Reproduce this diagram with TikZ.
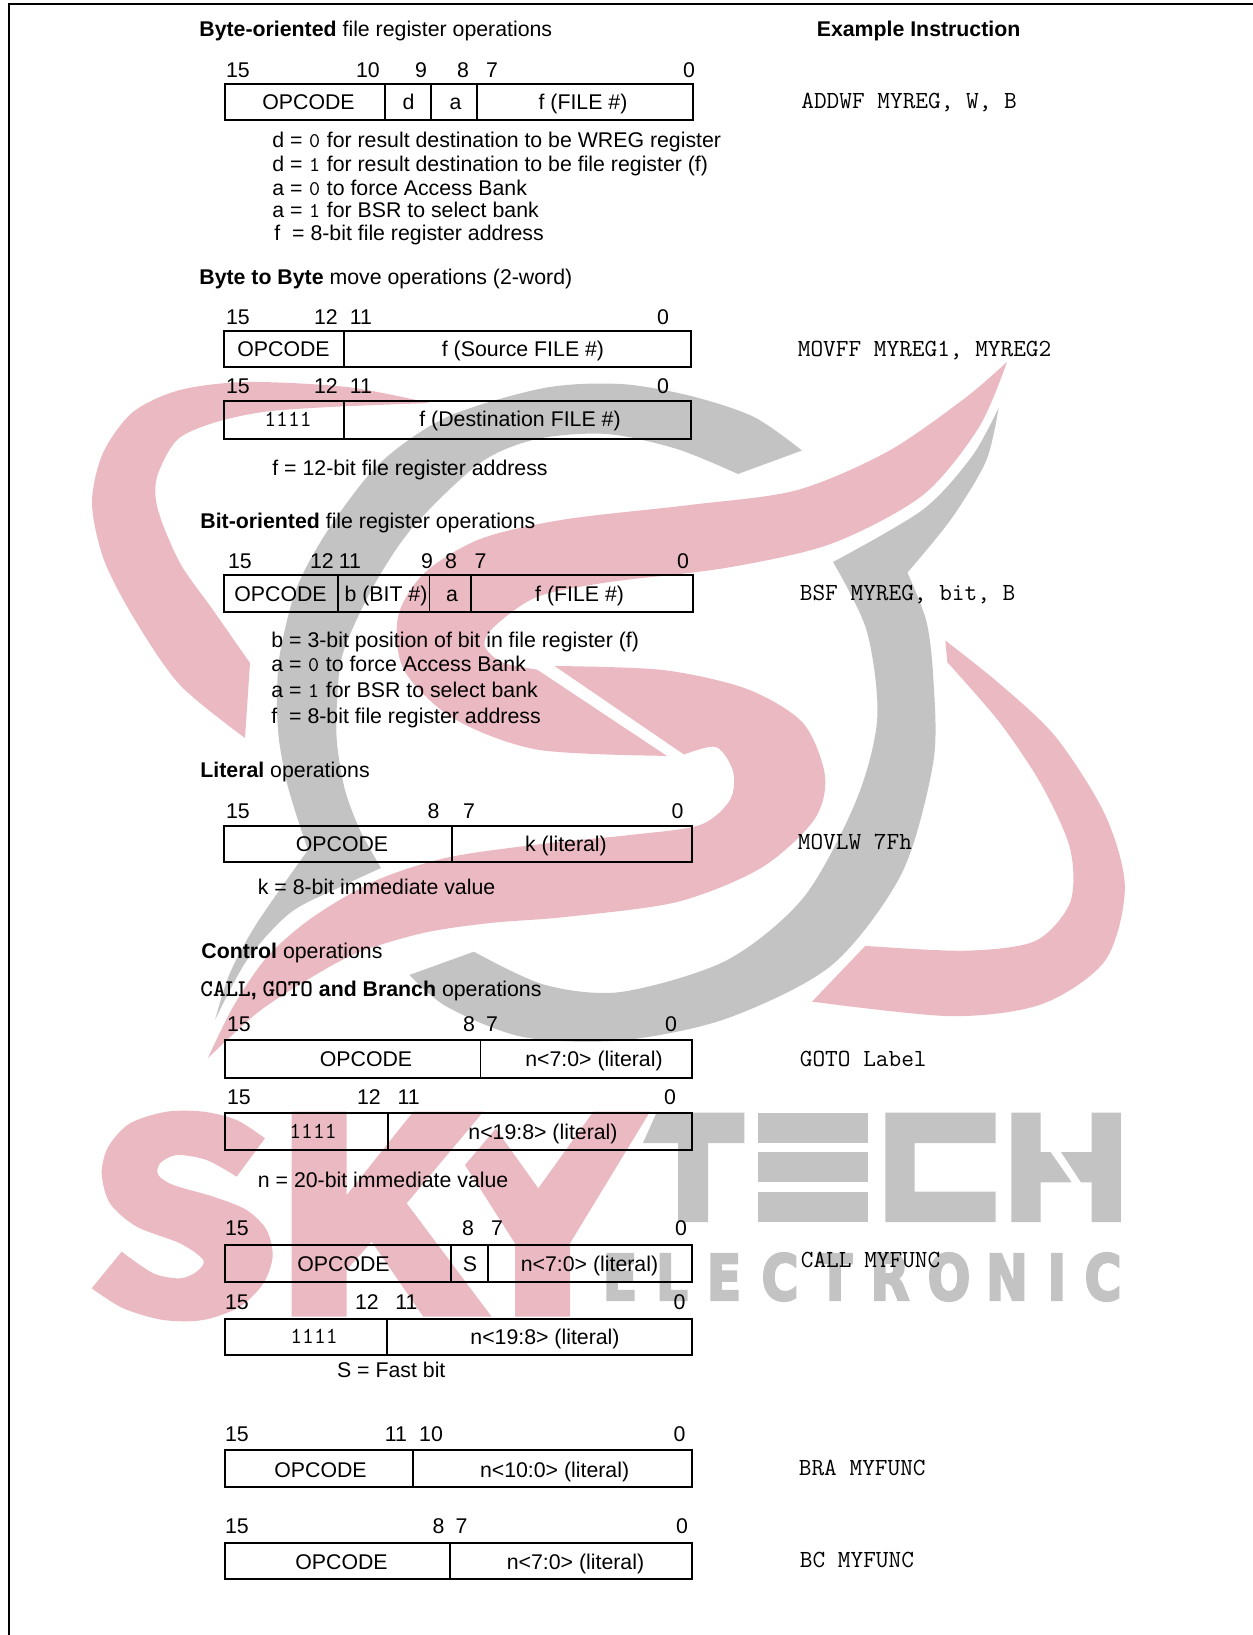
\documentclass[tikz,border=0pt]{standalone}
\usepackage{fontspec}
\setmainfont{Liberation Sans}
\newfontfamily\wmfont[FakeBold=4]{DejaVu Sans}
\usepackage{tikz}

\definecolor{wmpink}{HTML}{EBB9C1}
\definecolor{wmgray}{HTML}{C2C3C2}

\tikzset{
    frameline/.style={line width=1.25pt},
    regbox/.style={line width=1pt},
    regdiv/.style={line width=.8pt},
    wmred/.style={fill=wmpink},
    wmgrey/.style={fill=wmgray},
    wmletter/.style={text=wmgray, font=\fontsize{31.5}{33}\wmfont\bfseries, transform shape, xscale=.8, inner sep=0},
    headtext/.style={anchor=west, inner sep=0, text height=7.6pt, text depth=0pt, font=\fontsize{10.65}{12}\selectfont},
    notetext/.style={headtext},
    regtext/.style={inner sep=0, text height=7.6pt, text depth=0pt, font=\fontsize{10.65}{12}\selectfont},
    bitnum/.style={regtext},
    monotext/.style={anchor=west, inner sep=0, text height=6.5pt, text depth=0pt, font=\fontsize{12.3}{14}\selectfont\ttfamily},
    monoreg/.style={monotext, anchor=center, font=\fontsize{11.5}{14}\selectfont\ttfamily}
}
\newcommand{\nbit}[1]{\hspace{.35pt}{\fontsize{10.5}{12}\selectfont\ttfamily #1}\hspace{.35pt}}
\newcommand{\nop}[1]{{\fontsize{12}{12}\selectfont\ttfamily\bfseries #1}}

\begin{document}
\begin{tikzpicture}[x=0.5pt, y=-0.5pt]

\useasboundingbox (0,0) rectangle (1253,1635);

\fill[wmgrey] plot[smooth] coordinates {(802,450.5) (754,417) (691,396) (621,384) (544,388) (447,417) (380,463) (330,527) (297,587) (280,653) (277,700) (279,740) (287,783) (297,817) (308,850)}
    -- plot[smooth] coordinates {(308,850) (257,923) (230,973) (215,1020)}
    -- plot[smooth] coordinates {(215,1020) (247,960) (290,913) (340,887) (381,868)}
    -- plot[smooth] coordinates {(381,868) (360,830) (345,790) (337,743) (337,703) (343,653) (373,587) (413,527) (480,463) (537,439) (607,434) (677,449) (738,474)} -- cycle;
\begin{scope}[shift={(60,340)}, xscale=0.7015, yscale=0.4847]
\fill[wmgrey] plot[smooth] coordinates {(1338,140) (1300,240) (1230,350) (1102,458)}
    -- plot[smooth] coordinates {(1102,458) (1150,600) (1165,780) (1135,950) (1060,1150) (950,1280) (800,1345) (690,1330) (590,1262)}
    -- plot[smooth] coordinates {(498,1310) (552,1376) (660,1438) (800,1445) (950,1400) (1100,1290) (1200,1100) (1245,870) (1245,700) (1235,580) (1208,480)}
    -- plot[smooth] coordinates {(1208,480) (1270,370) (1320,250) (1338,140)} -- cycle;
\fill[wmred] plot[smooth] coordinates {(1350,45) (1290,120) (1180,230) (1050,310) (900,340) (720,370) (600,410) (520,480) (482,570) (490,680) (560,780) (680,845) (865,858)}
    -- plot[smooth] coordinates {(680,680) (630,665) (605,630) (620,590) (680,530) (780,500) (950,470) (1100,420) (1230,320) (1310,180) (1350,45)} -- cycle;
\fill[wmred] plot[smooth] coordinates {(1262,620) (1340,710) (1420,820) (1490,980) (1518,1130) (1490,1280) (1400,1370) (1270,1395) (1072,1365)}
    -- plot[smooth] coordinates {(1148,1250) (1290,1260) (1390,1240) (1440,1160) (1440,1050) (1400,920) (1340,790) (1265,665)} -- cycle;
\end{scope}
\fill[wmred] plot[smooth] coordinates {(430,403) (347,387) (247,382) (180,390) (133,412) (103,453) (92,503) (104,560) (135,620) (180,685) (245,738)}
    -- plot[smooth] coordinates {(250,663) (213,610) (180,563) (158,510) (157,477) (177,440) (213,423) (263,412) (330,407) (430,403)} -- cycle;
\fill[wmred] plot[smooth] coordinates {(684,754.5) (716,747) (733,771) (730,800) (700,825) (630,835) (550,843) (450,857) (377,880) (313,917) (267,957) (233,1007) (208,1058)}
    -- plot[smooth] coordinates {(208,1058) (257,1013) (307,980) (357,953) (423,933) (490,923) (565,917) (677,902) (761,868) (814,820) (825,776) (803,723) (747,689) (663,670) (554.6,666)} -- cycle;

\begin{scope}[shift={(80,1100)}, scale=0.3333]
\fill[wmred] plot[smooth] coordinates {(555,115) (470,60) (370,35) (260,35) (150,70) (85,140) (65,220) (90,310) (170,380) (300,430) (370,480) (350,515) (300,535) (220,520) (125,455)}
    -- plot[smooth] coordinates {(35,565) (130,625) (250,660) (370,660) (480,620) (550,550) (578,470) (560,390) (500,330) (400,290) (280,255) (235,225) (240,190) (290,165) (380,180) (470,230)} -- cycle;
\end{scope}
\fill[wmred] (291.7,1111.7) -- (346.7,1111.7) -- (346.7,1195) -- (413.3,1111.7) -- (483.3,1111.7) -- (406.7,1203.3) -- (491.7,1316.7) -- (423.3,1316.7) -- (371.7,1241.7) -- (346.7,1270) -- (346.7,1316.7) -- (291.7,1316.7) -- cycle;
\fill[wmred] (495.7,1128.7) -- (538.3,1188.3) -- (593.3,1111.7) -- (650,1111.7) -- (570,1243.3) -- (570,1316.7) -- (515,1316.7) -- (515,1243.3) -- (465,1165) -- cycle;

\fill[wmgrey] (656.5,1112.7) -- (744.4,1112.7) -- (744.4,1143) -- (708,1143) -- (708,1222) -- (678,1222) -- (678,1143) -- (643,1143) -- cycle;
\fill[wmgrey] (758.3,1112.7) rectangle (868,1143);
\fill[wmgrey] (758.3,1152) rectangle (868,1182.3);
\fill[wmgrey] (758.3,1191.7) rectangle (868,1222);
\fill[wmgrey] (885.3,1112.7) -- (995.5,1112.7) -- (995.5,1143) -- (914.5,1143) -- (914.5,1191.7) -- (995.5,1191.7) -- (995.5,1222) -- (885.3,1222) -- cycle;
\fill[wmgrey] (1011.4,1112.7) -- (1040.6,1112.7) -- (1040.6,1152) -- (1050.5,1152) -- (1071.7,1182.3) -- (1040.6,1182.3) -- (1040.6,1222) -- (1011.4,1222) -- cycle;
\fill[wmgrey] (1091.6,1112.7) -- (1120.8,1112.7) -- (1120.8,1222) -- (1091.6,1222) -- (1091.6,1182.3) -- (1081,1182.3) -- (1061,1152) -- (1091.6,1152) -- cycle;

\node[wmletter] (wm1) at (620,1277) {E};
\node[wmletter] (wm2) at (672,1277) {L};
\node[wmletter] (wm3) at (724,1277) {E};
\node[wmletter] (wm4) at (780,1277) {C};
\node[wmletter] (wm5) at (835,1277) {T};
\node[wmletter] (wm6) at (890,1277) {R};
\node[wmletter] (wm7) at (949,1277) {O};
\node[wmletter] (wm8) at (1007,1277) {N};
\node[wmletter] (wm9) at (1057,1277) {I};
\node[wmletter] (wm10) at (1103,1277) {C};

\draw[frameline] (9,1635) -- (9,4) -- (1253,4);

\node[headtext] (head1) at (199,29) {\textbf{Byte-oriented} file register operations};
\node[regtext, font=\fontsize{10.65}{12}\selectfont\bfseries] (headex) at (918.6,29) {Example Instruction};

\node[bitnum] (a15) at (238,70) {15};
\node[bitnum] (a10) at (368,70) {10};
\node[bitnum] (a9) at (421,70) {9};
\node[bitnum] (a8) at (463,70) {8};
\node[bitnum] (a7) at (492,70) {7};
\node[bitnum] (a0) at (689,70) {0};
\draw[regbox] (225,84) rectangle (693,120);
\draw[regdiv] (385,84) -- (385,120);
\draw[regdiv] (431,84) -- (431,120);
\draw[regdiv] (477,84) -- (477,120);
\node[regtext] (aop) at (308.5,102) {OPCODE};
\node[regtext] (ad) at (408.6,102) {d};
\node[regtext] (aa) at (455.5,102) {a};
\node[regtext] (af) at (583,102) {f (FILE \#)};
\node[monotext] (aex) at (801,102) {ADDWF MYREG, W, B};
\node[notetext] (an1) at (272,140) {d = \nbit{0} for result destination to be WREG register};
\node[notetext] (an2) at (272,164) {d = \nbit{1} for result destination to be file register (f)};
\node[notetext] (an3) at (272,188) {a = \nbit{0} to force Access Bank};
\node[notetext] (an4) at (272,210) {a = \nbit{1} for BSR to select bank};
\node[notetext] (an5) at (274,232.5) {f\ \ = 8-bit file register address};

\node[headtext] (head2) at (199,277) {\textbf{Byte to Byte} move operations (2-word)};

\node[bitnum] (b15) at (238,317) {15};
\node[bitnum] (b12) at (326,317) {12};
\node[bitnum] (b11) at (361,317) {11};
\node[bitnum] (b0) at (663,317) {0};
\draw[regbox] (224,330.5) rectangle (691,367);
\draw[regdiv] (344,330.5) -- (344,367);
\node[regtext] (bop) at (283.5,349) {OPCODE};
\node[regtext] (bf) at (523,349) {f (Source FILE \#)};
\node[monotext] (bex) at (797.5,350) {MOVFF MYREG1, MYREG2};

\node[bitnum] (c15) at (238,386) {15};
\node[bitnum] (c12) at (326,386) {12};
\node[bitnum] (c11) at (361,386) {11};
\node[bitnum] (c0) at (663,386) {0};
\draw[regbox] (224,401) rectangle (691,439);
\draw[regdiv] (344,401) -- (344,439);
\node[monoreg] (cop) at (288,420) {1111};
\node[regtext] (cf) at (520,419) {f (Destination FILE \#)};
\node[notetext] (cn1) at (272,468) {f = 12-bit file register address};

\node[headtext] (head3) at (200,521) {\textbf{Bit-oriented} file register operations};

\node[bitnum] (d15) at (240,561) {15};
\node[bitnum] (d12) at (322,561) {12};
\node[bitnum] (d11) at (350,561) {11};
\node[bitnum] (d9) at (427,561) {9};
\node[bitnum] (d8) at (451,561) {8};
\node[bitnum] (d7) at (480.5,561) {7};
\node[bitnum] (d0) at (683,561) {0};
\draw[regbox] (224,575) rectangle (693,612);
\draw[regdiv] (338,575) -- (338,612);
\draw[regdiv] (429.5,575) -- (429.5,612);
\draw[regdiv] (471,575) -- (471,612);
\node[regtext] (dop) at (280.5,594) {OPCODE};
\node[regtext] (db) at (386,594) {b (BIT \#)};
\node[regtext] (da) at (452,594) {a};
\node[regtext] (df) at (579.6,594) {f (FILE \#)};
\node[monotext] (dex) at (799.5,594) {BSF MYREG, bit, B};
\node[notetext] (dn1) at (271,640) {b = 3-bit position of bit in file register (f)};
\node[notetext] (dn2) at (271,664) {a = \nbit{0} to force Access Bank};
\node[notetext] (dn3) at (271,690) {a = \nbit{1} for BSR to select bank};
\node[notetext] (dn4) at (271,716) {f\ \ = 8-bit file register address};

\node[headtext] (head4) at (200,770) {\textbf{Literal} operations};

\node[bitnum] (e15) at (238,811) {15};
\node[bitnum] (e8) at (433.6,811) {8};
\node[bitnum] (e7) at (469,811) {7};
\node[bitnum] (e0) at (677.5,811) {0};
\draw[regbox] (224,825.5) rectangle (692,862);
\draw[regdiv] (452,825.5) -- (452,862);
\node[regtext] (eop) at (342,844) {OPCODE};
\node[regtext] (ek) at (566,844) {k (literal)};
\node[monotext] (eex) at (797.5,843) {MOVLW 7Fh};
\node[notetext] (en1) at (257.5,887) {k = 8-bit immediate value};

\node[headtext] (head5) at (201,951) {\textbf{Control} operations};
\node[headtext] (head6) at (200,989) {\nop{CALL}\textbf{, }\nop{GOTO} \textbf{and Branch} operations};

\node[bitnum] (f15) at (239,1024) {15};
\node[bitnum] (f8) at (469,1024) {8};
\node[bitnum] (f7) at (492,1024) {7};
\node[bitnum] (f0) at (671,1024) {0};
\draw[regbox] (225,1040) rectangle (692,1078);
\draw[regdiv] (480.5,1040) -- (480.5,1078);
\node[regtext] (fop) at (366,1059) {OPCODE};
\node[regtext] (fn) at (594,1059) {n<7:0> (literal)};
\node[monotext] (fex) at (799.5,1060) {GOTO Label};

\node[bitnum] (g15) at (239,1097) {15};
\node[bitnum] (g12) at (369,1097) {12};
\node[bitnum] (g11) at (408.6,1097) {11};
\node[bitnum] (g0) at (670,1097) {0};
\draw[regbox] (225,1113) rectangle (692,1150);
\draw[regdiv] (388,1113) -- (388,1150);
\node[monoreg] (gop) at (313,1132) {1111};
\node[regtext] (gn) at (543,1132) {n<19:8> (literal)};
\node[notetext] (gn1) at (257.5,1180) {n = 20-bit immediate value};

\node[bitnum] (h15) at (237,1228) {15};
\node[bitnum] (h8) at (468,1228) {8};
\node[bitnum] (h7) at (497,1228) {7};
\node[bitnum] (h0) at (681,1228) {0};
\draw[regbox] (225,1245) rectangle (692,1282);
\draw[regdiv] (451,1245) -- (451,1282);
\draw[regdiv] (488,1245) -- (488,1282);
\node[regtext] (hop) at (343.5,1264) {OPCODE};
\node[regtext] (hs) at (470,1264) {S};
\node[regtext] (hn) at (589.5,1264) {n<7:0> (literal)};
\node[monotext] (hex) at (800.5,1260.5) {CALL MYFUNC};

\node[bitnum] (i15) at (237,1302) {15};
\node[bitnum] (i12) at (367,1302) {12};
\node[bitnum] (i11) at (406.5,1302) {11};
\node[bitnum] (i0) at (679.6,1302) {0};
\draw[regbox] (225,1319) rectangle (692,1355);
\draw[regdiv] (387,1319) -- (387,1355);
\node[monoreg] (iop) at (314,1337) {1111};
\node[regtext] (in) at (545,1337) {n<19:8> (literal)};
\node[notetext] (in1) at (336.7,1370) {S = Fast bit};

\node[bitnum] (j15) at (237,1434) {15};
\node[bitnum] (j11) at (396,1434) {11};
\node[bitnum] (j10) at (431,1434) {10};
\node[bitnum] (j0) at (679.6,1434) {0};
\draw[regbox] (225,1450) rectangle (692,1486.5);
\draw[regdiv] (413,1450) -- (413,1486.5);
\node[regtext] (jop) at (320.5,1469.5) {OPCODE};
\node[regtext] (jn) at (554.6,1469.5) {n<10:0> (literal)};
\node[monotext] (jex) at (798.5,1468.5) {BRA MYFUNC};

\node[bitnum] (k15) at (237,1526) {15};
\node[bitnum] (k8) at (438.5,1526) {8};
\node[bitnum] (k7) at (461.5,1526) {7};
\node[bitnum] (k0) at (682,1526) {0};
\draw[regbox] (225,1543) rectangle (692,1579);
\draw[regdiv] (450,1543) -- (450,1579);
\node[regtext] (kop) at (341.5,1561.5) {OPCODE};
\node[regtext] (kn) at (575.5,1561.5) {n<7:0> (literal)};
\node[monotext] (kex) at (799.5,1561) {BC MYFUNC};

\end{tikzpicture}
\end{document}
